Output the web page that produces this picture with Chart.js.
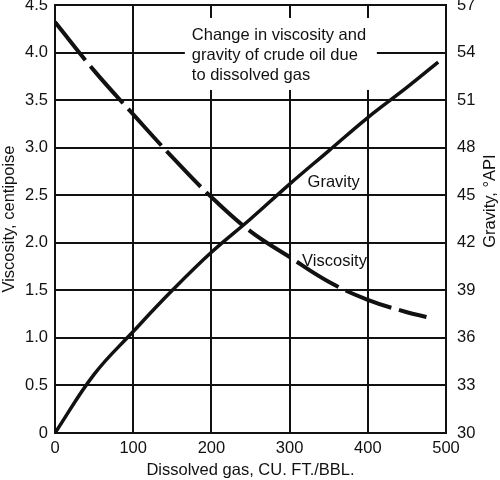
<!DOCTYPE html>
<html>
<head>
<meta charset="utf-8">
<script src="https://cdn.jsdelivr.net/npm/chart.js@4"></script>
<style>
  html, body { margin: 0; padding: 0; background: #fff; }
  #wrap { width: 500px; height: 480px; }
</style>
</head>
<body>
<div id="wrap"><canvas id="c" width="500" height="480"></canvas></div>
<script>
// ---- data ----
const gasVisc   = [0, 50, 100, 150, 200, 250, 300, 350, 400, 450, 475];
const viscosity = [4.32, 3.81, 3.35, 2.90, 2.48, 2.12, 1.85, 1.59, 1.40, 1.27, 1.22];
const gasGrav   = [0, 50, 100, 150, 200, 250, 300, 350, 400, 450, 490];
const gravity   = [30, 33.7, 36.4, 39.0, 41.4, 43.5, 45.7, 47.8, 49.9, 51.8, 53.4];
const xTickLabels  = ['0', '100', '200', '300', '400', '500'];
const yTickLabels  = ['0', '0.5', '1.0', '1.5', '2.0', '2.5', '3.0', '3.5', '4.0', '4.5'];
const y2TickLabels = ['30', '33', '36', '39', '42', '45', '48', '51', '54', '57'];
const noteLines = ['Change in viscosity and', 'gravity of crude oil due', 'to dissolved gas'];
const xTitle  = 'Dissolved gas, CU. FT./BBL.';
const yTitle  = 'Viscosity, centipoise';
const y2Title = 'Gravity, \u00B0API';
const curveLabels = [
  { text: 'Gravity',   x: 323, y: 2.63 },
  { text: 'Viscosity', x: 316, y: 1.80 }
];

const INK = '#111';
const FONT = 'Liberation Sans, Arial, Helvetica, sans-serif';
const FS = 16.5;

const toPts = (xs, ys) => xs.map((x, i) => ({ x: x, y: ys[i] }));

const notesPlugin = {
  id: 'notes',
  beforeDatasetsDraw(chart) {
    const { ctx, scales } = chart;
    const xs = scales.x, ys = scales.y;
    ctx.save();
    ctx.font = FS + 'px ' + FONT;
    ctx.textBaseline = 'middle';
    ctx.textAlign = 'left';
    const nx = xs.getPixelForValue(175);
    const ny = ys.getPixelForValue(4.185);
    ctx.fillStyle = '#fff';
    ctx.fillRect(nx - 7, ny - 17, 192, 72);
    ctx.fillStyle = INK;
    noteLines.forEach((t, i) => ctx.fillText(t, nx, ny + i * 20));
    ctx.restore();
  },
  afterDatasetsDraw(chart) {
    const { ctx, scales } = chart;
    ctx.save();
    ctx.font = FS + 'px ' + FONT;
    ctx.textBaseline = 'middle';
    ctx.textAlign = 'left';
    ctx.fillStyle = INK;
    curveLabels.forEach(l => {
      ctx.fillText(l.text, scales.x.getPixelForValue(l.x), scales.y.getPixelForValue(l.y));
    });
    const ca = chart.chartArea;
    ctx.translate(490, ca.top + (ca.bottom - ca.top) * 0.458);
    ctx.rotate(-Math.PI / 2);
    ctx.textAlign = 'center';
    ctx.fillText(y2Title, 0, 0);
    ctx.restore();
  }
};

function fixPad(s) { s.paddingTop = 0; s.paddingBottom = 0; s.paddingLeft = 0; s.paddingRight = 0; }

new Chart(document.getElementById('c'), {
  type: 'line',
  data: {
    datasets: [
      {
        label: 'Viscosity',
        data: toPts(gasVisc, viscosity),
        yAxisID: 'y',
        borderColor: INK,
        borderWidth: 4,
        borderDash: [49, 8],
        borderCapStyle: 'butt',
        pointRadius: 0,
        fill: false,
        tension: 0.4
      },
      {
        label: 'Gravity',
        data: toPts(gasGrav, gravity),
        yAxisID: 'y2',
        borderColor: INK,
        borderWidth: 3.5,
        pointRadius: 0,
        fill: false,
        tension: 0.4
      }
    ]
  },
  options: {
    responsive: false,
    animation: false,
    devicePixelRatio: 1,
    layout: { padding: { top: 5, left: 0, right: 0, bottom: 0 } },
    plugins: { legend: { display: false }, tooltip: { enabled: false } },
    scales: {
      x: {
        type: 'linear', min: 0, max: 500,
        afterFit(s) { s.height = 47; fixPad(s); },
        grid: { color: INK, lineWidth: 2, drawTicks: false },
        border: { display: true, color: INK, width: 2 },
        ticks: {
          stepSize: 100, padding: 6, color: INK, font: { family: FONT, size: FS },
          callback: (v) => xTickLabels[Math.round(v / 100)]
        },
        title: { display: true, text: xTitle, color: INK, font: { family: FONT, size: FS }, padding: { top: 0, bottom: 0 } }
      },
      y: {
        type: 'linear', position: 'left', min: 0, max: 4.5,
        afterFit(s) { s.width = 55; fixPad(s); },
        grid: { color: INK, lineWidth: 2, drawTicks: false },
        border: { display: true, color: INK, width: 2 },
        ticks: {
          stepSize: 0.5, padding: 7, color: INK, font: { family: FONT, size: FS },
          callback: (v) => yTickLabels[Math.round(v / 0.5)]
        },
        title: { display: true, text: yTitle, color: INK, font: { family: FONT, size: FS }, padding: { top: 0, bottom: 0 } }
      },
      y2: {
        type: 'linear', position: 'right', min: 30, max: 57,
        afterFit(s) { s.width = 54; fixPad(s); },
        grid: { display: false, drawTicks: false },
        border: { display: true, color: INK, width: 2 },
        ticks: {
          stepSize: 3, padding: 11, color: INK, font: { family: FONT, size: FS },
          callback: (v) => y2TickLabels[Math.round((v - 30) / 3)]
        }
      }
    }
  },
  plugins: [notesPlugin]
});
</script>
</body>
</html>
